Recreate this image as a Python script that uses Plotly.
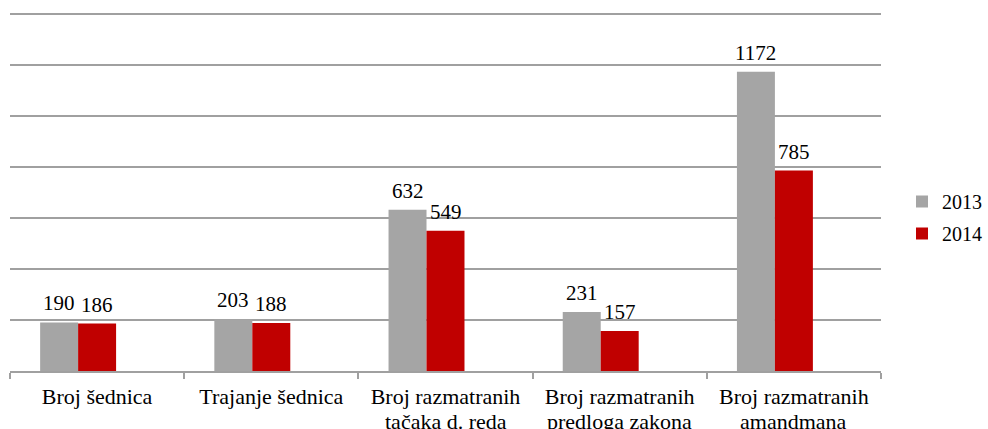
import plotly.graph_objects as go

categories = ["Broj šednica", "Trajanje šednica", "Broj razmatranih tačaka d. reda",
              "Broj razmatranih predloga zakona", "Broj razmatranih amandmana"]
label_line1 = ["Broj šednica", "Trajanje šednica", "Broj razmatranih",
               "Broj razmatranih", "Broj razmatranih"]
label_line2 = ["", "", "tačaka d. reda", "predloga zakona", "amandmana"]
series_names = ["2013", "2014"]
values_2013 = [190, 203, 632, 231, 1172]
values_2014 = [186, 188, 549, 157, 785]
colors = ["#A5A5A5", "#C00000"]

W = 0.218
offsets = [-1.5 * W, -0.5 * W]
FONT = "Liberation Serif"
FIG_W, FIG_H = 988, 429

fig = go.Figure()
annotations = []
for name, vals, col, off in zip(series_names, [values_2013, values_2014], colors, offsets):
    fig.add_trace(go.Bar(
        x=categories, y=vals, name=name, legendgroup=name,
        marker=dict(color=col, line=dict(width=0)),
        width=W, offset=off, hoverinfo="x+y+name"))
    for i, v in enumerate(vals):
        annotations.append(dict(
            x=i + off + W / 2, y=v, xref="x", yref="y", text=str(v), showarrow=False,
            yanchor="bottom", yshift=5, font=dict(family=FONT, size=21, color="#000000")))

for i, t in enumerate(label_line2):
    if t:
        annotations.append(dict(
            x=i, y=0, xref="x", yref="paper", text=t, showarrow=False,
            yanchor="top", yshift=-36, font=dict(family=FONT, size=22, color="#000000")))

fig.update_layout(
    width=FIG_W, height=FIG_H,
    margin=dict(l=10, r=107, t=10.5, b=58, autoexpand=False),
    paper_bgcolor="white", plot_bgcolor="white",
    barmode="overlay",
    font=dict(family=FONT, size=20, color="#000000"),
    annotations=annotations,
    showlegend=True,
    legend=dict(x=1.0241, xref="paper", xanchor="left",
                y=1 - 217.5 / FIG_H, yref="container", yanchor="middle",
                traceorder="grouped", tracegroupgap=3,
                font=dict(family=FONT, size=20, color="#000000"),
                bgcolor="rgba(0,0,0,0)"),
    xaxis=dict(type="category", showline=True, linecolor="#A0A0A0", linewidth=2,
               ticks="outside", tickson="boundaries", ticklen=6, tickcolor="#A0A0A0",
               tickwidth=2, showgrid=False, zeroline=False, automargin=False,
               ticklabelstandoff=5, tickvals=categories, ticktext=label_line1,
               tickfont=dict(family=FONT, size=22, color="#000000")),
    yaxis=dict(range=[0, 1410], tickvals=[200, 400, 600, 800, 1000, 1200, 1400],
               showticklabels=False, showline=False, automargin=False,
               zeroline=False, showgrid=True, gridcolor="#A0A0A0", gridwidth=2, ticks=""),
)

fig.write_html(
    "out.html",
    config={"displayModeBar": False},
    post_script="document.body.style.margin='0';document.body.style.overflow='hidden';",
)
